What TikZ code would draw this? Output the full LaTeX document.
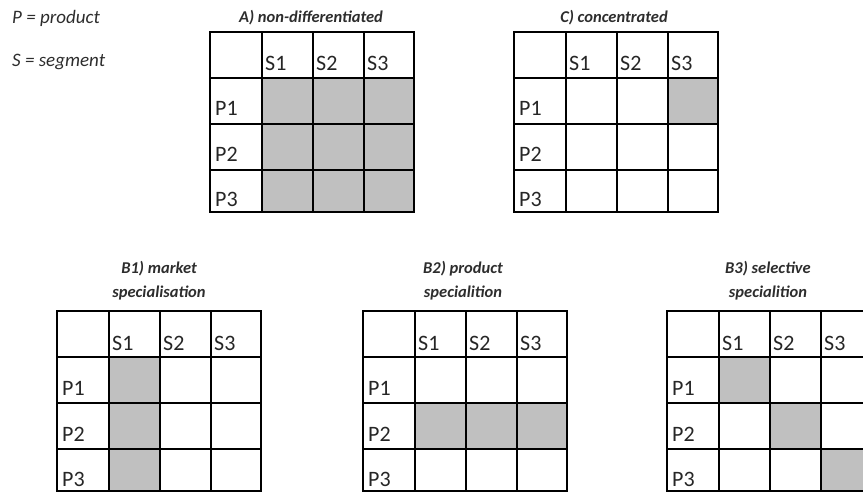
\documentclass[tikz,border=0pt]{standalone}
\usepackage{fontspec}
\setmainfont{Carlito}
\definecolor{cellgray}{RGB}{192,192,192}
\definecolor{txt}{RGB}{38,38,38}
\definecolor{ttl}{RGB}{45,45,45}
\tikzset{
  celltxt/.style={anchor=base west, inner sep=0pt, text=txt, font=\fontsize{22}{24}\selectfont},
  titletxt/.style={anchor=base, inner sep=0pt, text=ttl, font=\fontsize{16.5}{18}\selectfont\bfseries\itshape},
  legendtxt/.style={anchor=base west, inner sep=0pt, text=ttl, font=\fontsize{19}{21}\selectfont\itshape},
  gridline/.style={line width=1.8pt, black, line cap=rect},
}
% #1 name, #2 x0, #3 y0 (top), #4 shaded col/row list
\newcommand\matgrid[4]{%
  \begin{scope}[shift={(#2,#3)}]
    \foreach \c/\r in {#4}{%
      \pgfmathsetmacro\xa{{0,52,103,154,204}[\c]}%
      \pgfmathsetmacro\xb{{0,52,103,154,204}[\c+1]}%
      \pgfmathsetmacro\ya{{0,46,92,138,180}[\r]}%
      \pgfmathsetmacro\yb{{0,46,92,138,180}[\r+1]}%
      \fill[cellgray] (\xa,\ya) rectangle (\xb,\yb);
    }
    \foreach \x in {0,52,103,154,204} \draw[gridline] (\x,0) -- (\x,180);
    \foreach \y in {0,46,92,138,180} \draw[gridline] (0,\y) -- (204,\y);
    \node[celltxt] (#1-S1) at (55,39) {S1};
    \node[celltxt] (#1-S2) at (106,39) {S2};
    \node[celltxt] (#1-S3) at (157,39) {S3};
    \node[celltxt] (#1-P1) at (5,84) {P1};
    \node[celltxt] (#1-P2) at (5,130) {P2};
    \node[celltxt] (#1-P3) at (5,175) {P3};
  \end{scope}}
\begin{document}
\begin{tikzpicture}[x=1pt,y=-1pt]
  \useasboundingbox (0,0) rectangle (863,492);
  \begin{scope}
    \clip (0,0) rectangle (863,492);
    \node[legendtxt] (legP) at (12,24) {P = product};
    \node[legendtxt] (legS) at (12,67) {S = segment};

    \node[titletxt] (tA) at (311,23) {A) non-differentiated};
    \matgrid{A}{210}{32}{1/1,2/1,3/1,1/2,2/2,3/2,1/3,2/3,3/3}

    \node[titletxt] (tC) at (614,23) {C) concentrated};
    \matgrid{C}{514}{32}{3/1}

    \node[titletxt] (tB1a) at (159,273) {B1) market};
    \node[titletxt] (tB1b) at (159,298) {specialisation};
    \matgrid{B1}{57}{311}{1/1,1/2,1/3}

    \node[titletxt] (tB2a) at (463,273) {B2) product};
    \node[titletxt] (tB2b) at (463,298) {specialition};
    \matgrid{B2}{363}{311}{1/2,2/2,3/2}

    \node[titletxt] (tB3a) at (768,273) {B3) selective};
    \node[titletxt] (tB3b) at (768,298) {specialition};
    \matgrid{B3}{667}{311}{1/1,2/2,3/3}
  \end{scope}
\end{tikzpicture}
\end{document}
